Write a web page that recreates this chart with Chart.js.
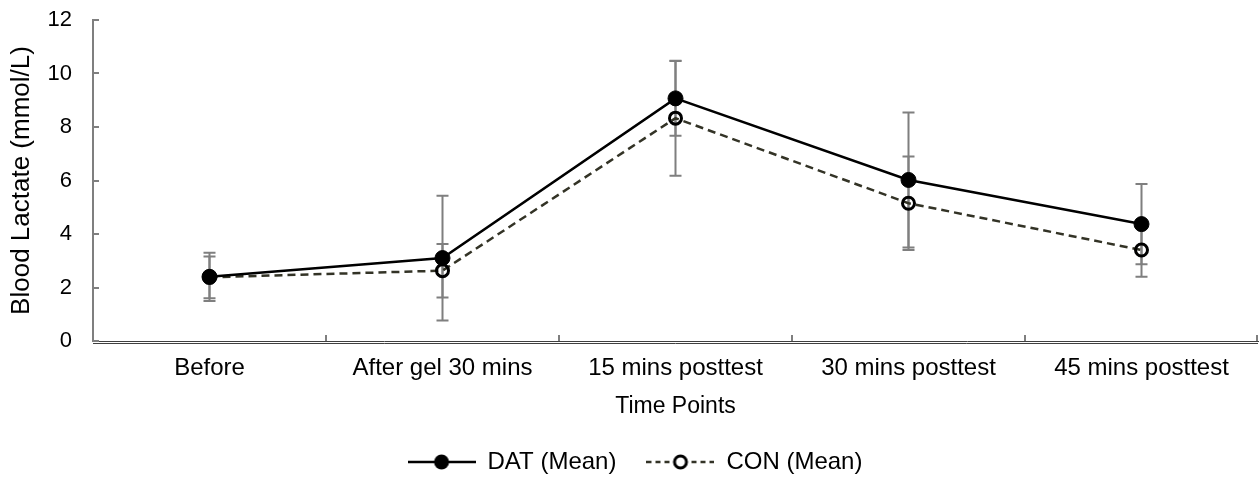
<!DOCTYPE html>
<html>
<head>
<meta charset="utf-8">
<script src="https://cdn.jsdelivr.net/npm/chart.js@4"></script>
<style>
    html, body { margin: 0; padding: 0; background: #fff; }
</style>
</head>
<body>
<canvas id="lactateChart" width="1260" height="487"></canvas>
<script>
const timePoints = ["Before", "After gel 30 mins", "15 mins posttest", "30 mins posttest", "45 mins posttest"];
const datMean = [2.40, 3.10, 9.07, 6.02, 4.37];
const datErr = [0.90, 2.33, 1.40, 2.52, 1.50];
const conMean = [2.38, 2.63, 8.33, 5.15, 3.40];
const conErr = [0.78, 1.00, 2.15, 1.75, 1.00];
const yTicks = [0, 2, 4, 6, 8, 10, 12];

const AXIS_GREY = "#7f7f7f";

// legend icons: line with the marker in the middle
function makeIcon(dashed, filled) {
    const c = document.createElement("canvas");
    c.width = 68;
    c.height = 18;
    const g = c.getContext("2d");
    g.lineWidth = 2.5;
    g.strokeStyle = dashed ? "#333326" : "#000";
    if (dashed) g.setLineDash([5, 4]);
    g.beginPath();
    g.moveTo(0, 9);
    g.lineTo(68, 9);
    g.stroke();
    g.setLineDash([]);
    g.beginPath();
    if (filled) {
        g.arc(34, 9, 7.5, 0, Math.PI * 2);
        g.fillStyle = "#000";
        g.fill();
    } else {
        g.arc(34, 9, 6, 0, Math.PI * 2);
        g.fillStyle = "#fff";
        g.fill();
        g.lineWidth = 3;
        g.strokeStyle = "#000";
        g.stroke();
    }
    return c;
}
const legendIcons = [makeIcon(false, true), makeIcon(true, false)];

const errorBars = {
    id: "errorBars",
    beforeDatasetsDraw(chart) {
        const ctx = chart.ctx;
        const y = chart.scales.y;
        const errs = [datErr, conErr];
        ctx.save();
        ctx.strokeStyle = AXIS_GREY;
        ctx.lineWidth = 2;
        chart.data.datasets.forEach((ds, i) => {
            const meta = chart.getDatasetMeta(i);
            meta.data.forEach((pt, j) => {
                const top = y.getPixelForValue(ds.data[j] + errs[i][j]);
                const bot = y.getPixelForValue(ds.data[j] - errs[i][j]);
                ctx.beginPath();
                ctx.moveTo(pt.x, top);
                ctx.lineTo(pt.x, bot);
                ctx.moveTo(pt.x - 6, top);
                ctx.lineTo(pt.x + 6, top);
                ctx.moveTo(pt.x - 6, bot);
                ctx.lineTo(pt.x + 6, bot);
                ctx.stroke();
            });
        });
        ctx.restore();
    },
    afterDraw(chart) {
        // inside tick marks like the original
        const ctx = chart.ctx;
        const x = chart.scales.x;
        const y = chart.scales.y;
        const area = chart.chartArea;
        ctx.save();
        ctx.strokeStyle = AXIS_GREY;
        ctx.lineWidth = 2;
        ctx.beginPath();
        yTicks.forEach(v => {
            const py = Math.round(y.getPixelForValue(v));
            ctx.moveTo(area.left, py);
            ctx.lineTo(area.left + 6, py);
        });
        const half = (x.getPixelForValue(1) - x.getPixelForValue(0)) / 2;
        timePoints.forEach((t, i) => {
            const px = Math.min(Math.round(x.getPixelForValue(i) + half), area.right - 1);
            ctx.moveTo(px, area.bottom);
            ctx.lineTo(px, area.bottom - 6);
        });
        ctx.stroke();
        ctx.lineWidth = 1;
        ctx.strokeStyle = "#404040";
        ctx.beginPath();
        ctx.moveTo(area.left, area.bottom + 2.5);
        ctx.lineTo(area.right, area.bottom + 2.5);
        ctx.stroke();
        ctx.restore();
    }
};

const family = "'Liberation Sans', Arial, sans-serif";

new Chart(document.getElementById("lactateChart"), {
    type: "line",
    data: {
        labels: timePoints,
        datasets: [{
            label: "DAT (Mean)",
            data: datMean,
            borderColor: "#000",
            borderWidth: 2.5,
            pointRadius: 7.5,
            pointBackgroundColor: "#000",
            pointBorderColor: "#000",
            pointBorderWidth: 1,
            tension: 0
        }, {
            label: "CON (Mean)",
            data: conMean,
            borderColor: "#333326",
            borderWidth: 2.5,
            borderDash: [8, 5],
            pointRadius: 6,
            pointBackgroundColor: "rgba(0,0,0,0)",
            pointBorderColor: "#000",
            pointBorderWidth: 3,
            tension: 0
        }]
    },
    options: {
        responsive: false,
        animation: false,
        layout: { autoPadding: false, padding: { top: 20, left: 12, right: 2, bottom: 3 } },
        plugins: {
            tooltip: { enabled: false },
            legend: {
                position: "bottom",
                labels: {
                    usePointStyle: true,
                    pointStyleWidth: 68,
                    padding: 30,
                    color: "#000",
                    font: { family: family, size: 24 },
                    generateLabels: chart => chart.data.datasets.map((ds, i) => ({
                        text: ds.label,
                        pointStyle: legendIcons[i],
                        fillStyle: "rgba(0,0,0,0)",
                        strokeStyle: "rgba(0,0,0,0)",
                        lineWidth: 0,
                        hidden: false,
                        datasetIndex: i
                    }))
                }
            }
        },
        scales: {
            x: {
                offset: true,
                // grid hidden, tickLength only spaces the labels from the axis
                grid: { display: false, drawTicks: true, tickLength: 13 },
                border: { color: "#404040", width: 1 },
                ticks: { color: "#000", font: { family: family, size: 24 }, padding: 0, maxRotation: 0 },
                title: {
                    display: true,
                    text: "Time Points",
                    color: "#000",
                    font: { family: family, size: 23 },
                    padding: { top: 0, bottom: 0 }
                },
                afterFit: s => {
                    s.height = 79;
                    s.paddingLeft = 0;
                    s.paddingRight = 0;
                }
            },
            y: {
                min: 0,
                max: 12,
                grid: { display: false, drawTicks: true, tickLength: 21 },
                border: { color: AXIS_GREY, width: 2 },
                ticks: { color: "#000", font: { family: family, size: 22 }, padding: 0, stepSize: 2 },
                title: {
                    display: true,
                    text: "Blood Lactate (mmol/L)",
                    color: "#000",
                    font: { family: family, size: 26 },
                    padding: { top: -6, bottom: 0 }
                },
                afterFit: s => { s.width = 81; }
            }
        }
    },
    plugins: [errorBars]
});
</script>
</body>
</html>
